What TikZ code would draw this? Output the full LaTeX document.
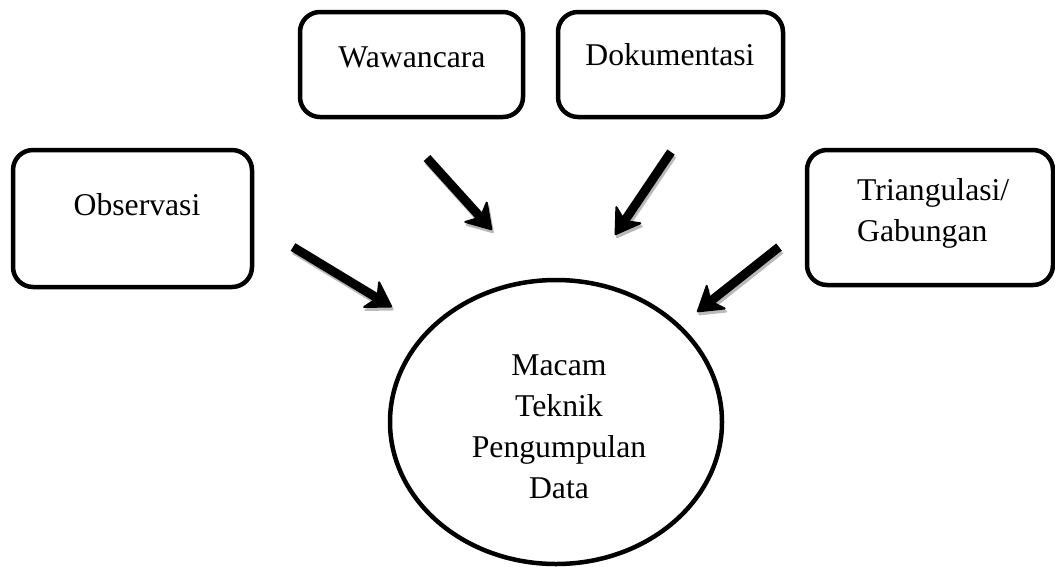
\documentclass[tikz,border=0pt]{standalone}
\usepackage{fontspec}
\setmainfont{Liberation Serif}
\usetikzlibrary{arrows.meta}
\usetikzlibrary{positioning}
\usetikzlibrary{shapes.geometric}

\begin{document}
\begin{tikzpicture}[x=1pt,y=-1pt]
	\tikzset{
	  kotak/.style={draw,line width=4.5pt,rounded corners=20pt,inner sep=0pt},
	  teks/.style={font=\fontsize{31.7}{41}\selectfont,inner sep=0pt},
	  panah/.style={line width=9pt,-{Stealth[length=27pt,width=34pt,inset=8pt,round,line width=2pt]}},
	  bayang/.style={draw=gray!55,transform canvas={shift={(1.5pt,-3pt)}}}
	}
	\useasboundingbox (0,0) rectangle (1055,566);
	%BOXES
	\node[kotak,minimum width=239pt,minimum height=137pt] (obs) at (132.5,218.5) {};
	\node[kotak,minimum width=223pt,minimum height=105pt] (waw) at (411.5,64.5) {};
	\node[kotak,minimum width=225pt,minimum height=105pt] (dok) at (670.5,64.5) {};
	\node[kotak,minimum width=246pt,minimum height=135pt] (tri) at (930,217.5) {};
	%ELLIPSE
	\node[draw,ellipse,line width=4.5pt,minimum width=332pt,minimum height=284pt,inner sep=0pt] (teknik) at (556,422) {};
	%TEXTS
	\node[teks] (obsText) at (137,205) {Observasi};
	\node[teks] (wawText) at (412,57) {Wawancara};
	\node[teks] (dokText) at (670,55) {Dokumentasi};
	\node[teks,align=left,anchor=west] (triText) at (857,213) {Triangulasi/\\Gabungan};
	\node[teks,align=center] (teknikText) at (559,427) {Macam\\Teknik\\Pengumpulan\\Data};
	%ARROW ENDS
	\coordinate (obsA) at (293,247);  \coordinate (obsB) at (392,307);
	\coordinate (wawA) at (427,158);  \coordinate (wawB) at (492,230);
	\coordinate (dokA) at (671,152);  \coordinate (dokB) at (615,235);
	\coordinate (triA) at (779,247);  \coordinate (triB) at (697,312);
	\foreach \a/\b in {obsA/obsB,wawA/wawB,dokA/dokB,triA/triB} {
		\draw[panah,bayang] (\a) -- (\b) ;
	  }
	\foreach \a/\b in {obsA/obsB,wawA/wawB,dokA/dokB,triA/triB} {
		\draw[panah] (\a) -- (\b) ;
	  }
\end{tikzpicture}
\end{document}
